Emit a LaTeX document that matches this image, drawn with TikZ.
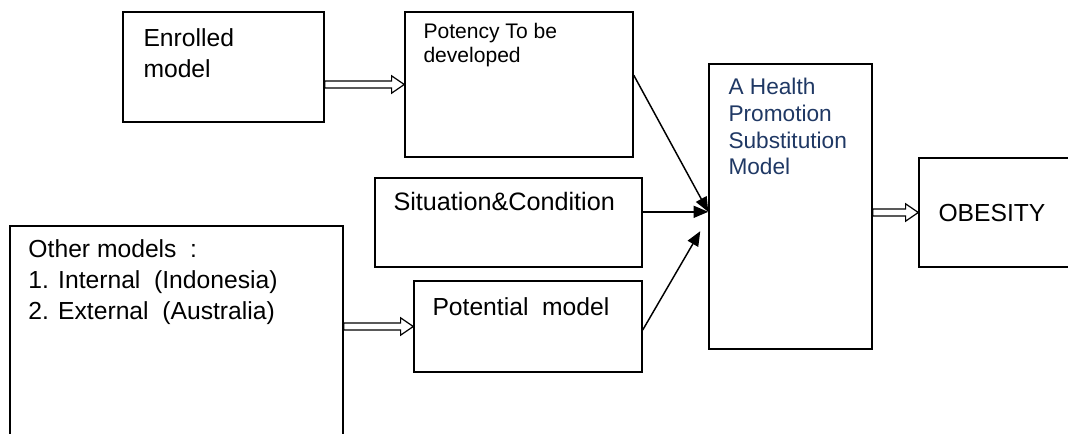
\documentclass[tikz,border=0pt]{standalone}
\usepackage{fontspec}
\setmainfont{Liberation Sans}
\usetikzlibrary{arrows.meta,fit,calc}

\definecolor{hpsmblue}{RGB}{31,56,100}

\tikzset{every picture/.style={line width=0.75pt}}
\tikzset{
  box/.style={draw, inner sep=0pt, line width=1.1pt},
  txt/.style={anchor=base west, inner sep=0pt, align=left, font=\fontsize{18.5}{23.5}\selectfont},
  feed/.style={-{Triangle[length=11pt,width=9pt]}, line width=1.1pt},
  hollow/.style={draw, line width=0.9pt, fill=white, line join=miter,
    to path={let \p1=(\tikztostart), \p2=(\tikztotarget) in
      (\x1,\y1+2.6pt) -- (\x2-9.5pt,\y1+2.6pt) -- (\x2-9.5pt,\y1+6.5pt) -- (\x2,\y1)
      -- (\x2-9.5pt,\y1-6.5pt) -- (\x2-9.5pt,\y1-2.6pt) -- (\x1,\y1-2.6pt) -- cycle}}
}

\begin{document}
\begin{tikzpicture}[x=0.75pt,y=0.75pt,yscale=-1,xscale=1]
\useasboundingbox (0,0) rectangle (1068,434);
\clip (0,0) rectangle (1068,434);

%Shape: Rectangle
\node[box, fit={(123,12) (324,122)}] (enrolled) {};
%Shape: Rectangle
\node[box, fit={(405,12) (633,157)}] (potency) {};
%Shape: Rectangle
\node[box, fit={(375,178) (642,267)}] (situation) {};
%Shape: Rectangle
\node[box, fit={(10,226) (343,450)}] (other) {};
%Shape: Rectangle
\node[box, fit={(414,281) (642,372)}] (potential) {};
%Shape: Rectangle
\node[box, fit={(709,64) (872,349)}] (hpsm) {};
%Shape: Rectangle
\node[box, fit={(919,158) (1080,267)}] (obesity) {};

%Block Arrows
\draw[hollow] (enrolled.east |- potency.west) to (potency.west);
\draw[hollow] (other.east |- potential.west) to (potential.west);
\draw[hollow] (hpsm.east |- obesity.west) to (obesity.west);

%Straight Lines (yshift runs downwards here, yscale=-1)
\coordinate (meet) at ([yshift=4pt]hpsm.west);
\coordinate (meet2) at ([xshift=-6pt,yshift=18.5pt]hpsm.west);
\draw[feed] ([yshift=-7pt]potency.east) -- (meet);
\draw[feed] (situation.east |- meet) -- (meet);
\draw[feed] ([yshift=2.6pt]potential.east) -- (meet2);

% Text Node (multi-line nodes sit on their last baseline)
\node[txt] (enrolledtxt) at (143,78) {Enrolled\\model};
% Text Node
\node[txt, font=\fontsize{15.8}{18}\selectfont] (potencytxt) at (423,63) {Potency To be\\developed};
% Text Node
\node[txt, font=\fontsize{18.9}{23.5}\selectfont] (situationtxt) at (393,211) {Situation\&Condition};
% Text Node
\node[txt] (othertxt) at (28,320) {Other models~ :\\1. Internal~ (Indonesia)\\2. External~ (Australia)};
% Text Node
\node[txt] (potentialtxt) at (432,316) {Potential~ model};
% Text Node
\node[txt, text=hpsmblue, font=\fontsize{17}{20}\selectfont] (hpsmtxt) at (728,175) {A Health\\Promotion\\Substitution\\Model};
% Text Node
\node[txt] (obesitytxt) at (938,222) {OBESITY};

\end{tikzpicture}
\end{document}
